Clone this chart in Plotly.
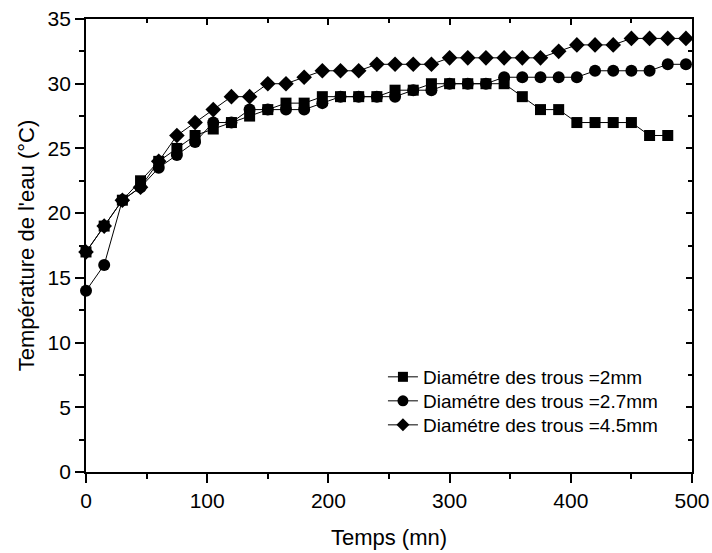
import plotly.graph_objects as go

# Time (minutes), sampled every 15 min
t_2mm = [0, 15, 30, 45, 60, 75, 90, 105, 120, 135, 150, 165, 180, 195, 210, 225, 240,
         255, 270, 285, 300, 315, 330, 345, 360, 375, 390, 405, 420, 435, 450, 465, 480]
temp_2mm = [17, 19, 21, 22.5, 24, 25, 26, 26.5, 27, 27.5, 28, 28.5, 28.5, 29, 29, 29, 29,
            29.5, 29.5, 30, 30, 30, 30, 30, 29, 28, 28, 27, 27, 27, 27, 26, 26]

t_27mm = [0, 15, 30, 45, 60, 75, 90, 105, 120, 135, 150, 165, 180, 195, 210, 225, 240,
          255, 270, 285, 300, 315, 330, 345, 360, 375, 390, 405, 420, 435, 450, 465, 480, 495]
temp_27mm = [14, 16, 21, 22, 23.5, 24.5, 25.5, 27, 27, 28, 28, 28, 28, 28.5, 29, 29, 29,
             29, 29.5, 29.5, 30, 30, 30, 30.5, 30.5, 30.5, 30.5, 30.5, 31, 31, 31, 31, 31.5, 31.5]

t_45mm = [0, 15, 30, 45, 60, 75, 90, 105, 120, 135, 150, 165, 180, 195, 210, 225, 240,
          255, 270, 285, 300, 315, 330, 345, 360, 375, 390, 405, 420, 435, 450, 465, 480, 495]
temp_45mm = [17, 19, 21, 22, 24, 26, 27, 28, 29, 29, 30, 30, 30.5, 31, 31, 31, 31.5,
             31.5, 31.5, 31.5, 32, 32, 32, 32, 32, 32, 32.5, 33, 33, 33, 33.5, 33.5, 33.5, 33.5]

# (label, x, y, marker symbol, plot marker size, legend marker size, legend id)
series = [
    ("Diamétre des trous =2mm", t_2mm, temp_2mm, "square", 11, 10, "legend"),
    ("Diamétre des trous =2.7mm", t_27mm, temp_27mm, "circle", 12, 11, "legend2"),
    ("Diamétre des trous =4.5mm", t_45mm, temp_45mm, "diamond", 12, 10, "legend3"),
]

FONT = "Liberation Sans, Arial, sans-serif"

fig = go.Figure()
for name, xs, ys, sym, size, _, _ in series:
    fig.add_trace(go.Scatter(
        x=xs, y=ys, name=name, mode="lines+markers",
        line=dict(color="black", width=1),
        marker=dict(symbol=sym, size=size, color="black"),
        cliponaxis=False, showlegend=False,
    ))

# legend entries with smaller symbols, one legend box per row
for name, _, _, sym, _, lsize, lg in series:
    fig.add_trace(go.Scatter(
        x=[None], y=[None], name=name, mode="lines+markers",
        line=dict(color="black", width=1),
        marker=dict(symbol=sym, size=lsize, color="black"),
        legend=lg,
    ))

# invisible trace carrying the mirrored top/right axes
fig.add_trace(go.Scatter(x=[0], y=[0], xaxis="x2", yaxis="y2",
                         mode="markers", marker=dict(opacity=0),
                         showlegend=False, hoverinfo="skip"))

axis_common = dict(showgrid=False, zeroline=False, showline=True,
                   linecolor="black", linewidth=1.7, automargin=False)

legend_style = dict(x=0.49, xanchor="left", yanchor="top",
                    bgcolor="rgba(0,0,0,0)", font=dict(size=19, family=FONT),
                    itemwidth=30)

fig.update_layout(
    width=712, height=553,
    margin=dict(l=86, r=20, t=19, b=81),
    paper_bgcolor="white", plot_bgcolor="white",
    font=dict(family=FONT, size=21, color="black"),
    showlegend=True,
    legend=dict(y=0.2517, **legend_style),
    legend2=dict(y=0.1987, **legend_style),
    legend3=dict(y=0.1457, **legend_style),
    xaxis=dict(range=[0, 500], dtick=100, ticks="outside", ticklen=9,
               tickwidth=1.5, tickcolor="black", tickfont=dict(size=21),
               minor=dict(dtick=50, ticks="outside", ticklen=5, tickcolor="black", tickwidth=1.5),
               title=dict(text="Temps (mn)", font=dict(size=22), standoff=19),
               **axis_common),
    yaxis=dict(range=[0, 35], dtick=5, ticks="outside", ticklen=9,
               tickwidth=1.5, tickcolor="black", tickfont=dict(size=21),
               minor=dict(dtick=2.5, ticks="outside", ticklen=5, tickcolor="black", tickwidth=1.5),
               title=dict(text="Température de l'eau (°C)", font=dict(size=22), standoff=7),
               **axis_common),
    xaxis2=dict(overlaying="x", matches="x", side="top", range=[0, 500], dtick=100,
                ticks="inside", ticklen=6, tickwidth=1.5, tickcolor="black", showticklabels=False,
                minor=dict(dtick=50, ticks="inside", ticklen=4, tickcolor="black", tickwidth=1.5),
                **axis_common),
    yaxis2=dict(overlaying="y", matches="y", side="right", range=[0, 35], dtick=5,
                ticks="inside", ticklen=6, tickwidth=1.5, tickcolor="black", showticklabels=False,
                minor=dict(dtick=2.5, ticks="inside", ticklen=4, tickcolor="black", tickwidth=1.5),
                **axis_common),
)

fig.write_html("out.html")
